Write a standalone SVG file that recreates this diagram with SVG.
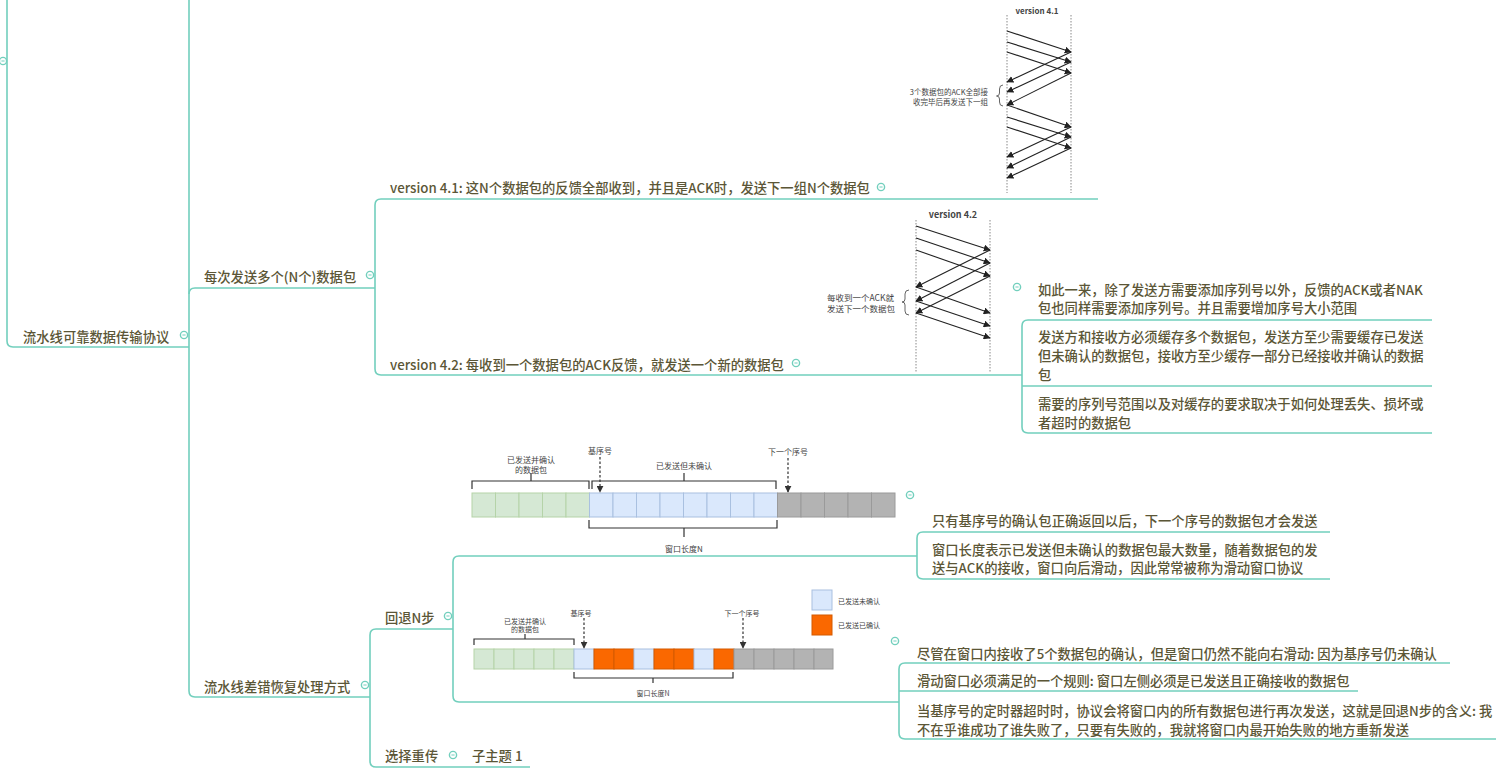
<svg xmlns="http://www.w3.org/2000/svg" width="1496" height="773" viewBox="0 0 1496 773">
<defs>
<style>
.ln{fill:none;stroke:#72cfbd;stroke-width:1.6}
.t{font-family:"Noto Sans CJK SC","Noto Sans",sans-serif;font-size:13.3px;font-weight:500;fill:#5b5636;dominant-baseline:central}
.cc{fill:#fff;stroke:#72cfbd;stroke-width:1.4}
.cm{stroke:#72cfbd;stroke-width:1}
.dot{stroke:#888;stroke-width:1;stroke-dasharray:1.5,1.5}
.ar{stroke:#222;stroke-width:1.1;fill:none}
.s{font-family:"Noto Sans CJK SC","Liberation Sans",sans-serif;fill:#444;dominant-baseline:central}
.br{fill:none;stroke:#333;stroke-width:1.2}
.da{stroke:#333;stroke-width:1.2;stroke-dasharray:2.5,2}
.g{fill:#d5e8d4;stroke:#b5d3a8;stroke-width:1}
.b{fill:#dae8fc;stroke:#a9c0e0;stroke-width:1}
.o{fill:#fa6800;stroke:#d45a00;stroke-width:1}
.k{fill:#b3b3b3;stroke:#9a9a9a;stroke-width:1}
</style>
<marker id="ah" viewBox="0 0 10 10" refX="9" refY="5" markerWidth="7" markerHeight="7" markerUnits="userSpaceOnUse" orient="auto"><path d="M0,0 L10,5 L0,10 Z" fill="#222"/></marker>
<marker id="dh" viewBox="0 0 10 10" refX="9" refY="5" markerWidth="7" markerHeight="7" markerUnits="userSpaceOnUse" orient="auto"><path d="M0,0 L10,5 L0,10 Z" fill="#333"/></marker>
<symbol id="col" viewBox="-5 -5 10 10" overflow="visible"><circle r="3.6" class="cc"/><line x1="-1.6" y1="0" x2="1.6" y2="0" class="cm"/></symbol>
</defs>
<rect width="1496" height="773" fill="#fff"/>

<g id="connectors">
<path class="ln" d="M7,0 V341 Q7,347 13,347 H189"/>
<path class="ln" d="M189,0 V691 Q189,697 195,697 H370"/>
<path class="ln" d="M189,294 Q189,288 195,288 H375"/>
<path class="ln" d="M375,205 Q375,199 381,199 H1098"/>
<path class="ln" d="M375,205 V369 Q375,375 381,375 H1022"/>
<path class="ln" d="M1022,326 Q1022,320 1028,320 H1432"/>
<path class="ln" d="M1022,386 H1432"/>
<path class="ln" d="M1022,326 V427 Q1022,433 1028,433 H1432"/>
<path class="ln" d="M370,635 Q370,629 376,629 H453"/>
<path class="ln" d="M370,635 V761 Q370,767 376,767 H530"/>
<path class="ln" d="M453,562 Q453,556 459,556 H917"/>
<path class="ln" d="M453,562 V696 Q453,702 459,702 H899"/>
<path class="ln" d="M917,538 Q917,532 923,532 H1330"/>
<path class="ln" d="M917,538 V573 Q917,579 923,579 H1330"/>
<path class="ln" d="M899,669 Q899,663 905,663 H1450"/>
<path class="ln" d="M899,691 H1358"/>
<path class="ln" d="M899,669 V733 Q899,739 905,739 H1496"/>
</g>

<g id="n-root-left"><use href="#col" x="-2" y="56" width="10" height="10"/></g>

<g id="n-pipeline">
<text class="t" x="23" y="336">流水线可靠数据传输协议</text>
<use href="#col" x="179" y="330" width="10" height="10"/>
</g>

<g id="n-multi">
<text class="t" x="204" y="276">每次发送多个(N个)数据包</text>
<use href="#col" x="365" y="270" width="10" height="10"/>
</g>

<g id="n-v41">
<text class="t" x="390" y="187">version 4.1: 这N个数据包的反馈全部收到，并且是ACK时，发送下一组N个数据包</text>
<use href="#col" x="876" y="182" width="10" height="10"/>
<text class="s" x="1037" y="10" font-size="8" font-weight="bold" text-anchor="middle" font-family="Liberation Sans,sans-serif">version 4.1</text>
<line class="dot" x1="1007" y1="15" x2="1007" y2="193"/>
<line class="dot" x1="1071" y1="15" x2="1071" y2="193"/>
<g marker-end="url(#ah)">
<line class="ar" x1="1007" y1="31" x2="1071" y2="52"/>
<line class="ar" x1="1007" y1="42" x2="1071" y2="62"/>
<line class="ar" x1="1007" y1="52" x2="1071" y2="73"/>
<line class="ar" x1="1071" y1="52" x2="1007" y2="82"/>
<line class="ar" x1="1071" y1="62" x2="1007" y2="92"/>
<line class="ar" x1="1071" y1="73" x2="1007" y2="105"/>
<line class="ar" x1="1007" y1="105" x2="1071" y2="127"/>
<line class="ar" x1="1007" y1="117" x2="1071" y2="137"/>
<line class="ar" x1="1007" y1="127" x2="1071" y2="148"/>
<line class="ar" x1="1071" y1="127" x2="1007" y2="157"/>
<line class="ar" x1="1071" y1="137" x2="1007" y2="168"/>
<line class="ar" x1="1071" y1="148" x2="1007" y2="178"/>
</g>
<path d="M1003,85 Q999.5,85 999.5,89 V93 Q999.5,96 996.5,96 Q999.5,96 999.5,99 V102 Q999.5,106 1003,106" fill="none" stroke="#555" stroke-width="0.9"/>
<text class="s" x="988" y="91" font-size="7.5" text-anchor="end">3个数据包的ACK全部接</text>
<text class="s" x="988" y="101" font-size="7.5" text-anchor="end">收完毕后再发送下一组</text>
</g>

<g id="n-v42">
<text class="t" x="390" y="364">version 4.2: 每收到一个数据包的ACK反馈，就发送一个新的数据包</text>
<use href="#col" x="791" y="358" width="10" height="10"/>
<text class="s" x="953" y="214" font-size="9" font-weight="bold" text-anchor="middle" font-family="Liberation Sans,sans-serif">version 4.2</text>
<line class="dot" x1="916" y1="220" x2="916" y2="372"/>
<line class="dot" x1="990" y1="220" x2="990" y2="372"/>
<g marker-end="url(#ah)">
<line class="ar" x1="916" y1="226" x2="990" y2="250"/>
<line class="ar" x1="916" y1="238" x2="990" y2="263"/>
<line class="ar" x1="916" y1="250" x2="990" y2="276"/>
<line class="ar" x1="990" y1="250" x2="916" y2="287"/>
<line class="ar" x1="990" y1="263" x2="916" y2="301"/>
<line class="ar" x1="990" y1="276" x2="916" y2="313"/>
<line class="ar" x1="916" y1="287" x2="990" y2="313"/>
<line class="ar" x1="916" y1="301" x2="990" y2="326"/>
<line class="ar" x1="916" y1="313" x2="990" y2="338"/>
</g>
<path d="M909,290 Q905,290 905,294 V299 Q905,302 902,302 Q905,302 905,305 V311 Q905,315 909,315" fill="none" stroke="#555" stroke-width="0.9"/>
<text class="s" x="827" y="297" font-size="8.5">每收到一个ACK就</text>
<text class="s" x="827" y="308" font-size="8.5">发送下一个数据包</text>
<use href="#col" x="1012" y="282" width="10" height="10"/>
</g>

<g id="n-seq">
<text class="t" x="1038" y="289">如此一来，除了发送方需要添加序列号以外，反馈的ACK或者NAK</text>
<text class="t" x="1038" y="307">包也同样需要添加序列号。并且需要增加序号大小范围</text>
</g>
<g id="n-buffer">
<text class="t" x="1038" y="336">发送方和接收方必须缓存多个数据包，发送方至少需要缓存已发送</text>
<text class="t" x="1038" y="355">但未确认的数据包，接收方至少缓存一部分已经接收并确认的数据</text>
<text class="t" x="1038" y="374">包</text>
</g>
<g id="n-range">
<text class="t" x="1038" y="403">需要的序列号范围以及对缓存的要求取决于如何处理丢失、损坏或</text>
<text class="t" x="1038" y="422">者超时的数据包</text>
</g>

<g id="n-error">
<text class="t" x="204" y="686">流水线差错恢复处理方式</text>
<use href="#col" x="360" y="680" width="10" height="10"/>
</g>

<g id="n-gbn">
<text class="t" x="385" y="617">回退N步</text>
<use href="#col" x="443" y="611" width="10" height="10"/>
</g>

<g id="n-sr">
<text class="t" x="385" y="755">选择重传</text>
<use href="#col" x="448" y="750" width="10" height="10"/>
</g>
<g id="n-sub1">
<text class="t" x="472" y="755">子主题 1</text>
</g>

<g id="n-gbn-img1">
<rect class="g" x="472" y="493" width="23.5" height="24"/>
<rect class="g" x="495.5" y="493" width="23.5" height="24"/>
<rect class="g" x="519" y="493" width="23.5" height="24"/>
<rect class="g" x="542.5" y="493" width="23.5" height="24"/>
<rect class="g" x="566" y="493" width="23.5" height="24"/>
<rect class="b" x="589.5" y="493" width="23.5" height="24"/>
<rect class="b" x="613" y="493" width="23.5" height="24"/>
<rect class="b" x="636.5" y="493" width="23.5" height="24"/>
<rect class="b" x="660" y="493" width="23.5" height="24"/>
<rect class="b" x="683.5" y="493" width="23.5" height="24"/>
<rect class="b" x="707" y="493" width="23.5" height="24"/>
<rect class="b" x="730.5" y="493" width="23.5" height="24"/>
<rect class="b" x="754" y="493" width="23.5" height="24"/>
<rect class="k" x="777.5" y="493" width="23.5" height="24"/>
<rect class="k" x="801" y="493" width="23.5" height="24"/>
<rect class="k" x="824.5" y="493" width="23.5" height="24"/>
<rect class="k" x="848" y="493" width="23.5" height="24"/>
<rect class="k" x="871.5" y="493" width="23.5" height="24"/>
<path class="br" d="M472,489 V481 H589 V489 M531,481 V473"/>
<path class="br" d="M592,489 V481 H776 V489 M684,481 V473"/>
<path class="br" d="M589,520 V528 H777 V520 M684,528 V537"/>
<text class="s" x="531" y="459" font-size="8" text-anchor="middle">已发送并确认</text>
<text class="s" x="531" y="469" font-size="8" text-anchor="middle">的数据包</text>
<text class="s" x="684" y="465" font-size="8" text-anchor="middle">已发送但未确认</text>
<text class="s" x="684" y="548" font-size="8" text-anchor="middle">窗口长度N</text>
<text class="s" x="600" y="450" font-size="8" text-anchor="middle">基序号</text>
<text class="s" x="788" y="451" font-size="8" text-anchor="middle">下一个序号</text>
<line class="da" x1="600" y1="457" x2="600" y2="492" marker-end="url(#dh)"/>
<line class="da" x1="788" y1="458" x2="788" y2="492" marker-end="url(#dh)"/>
<use href="#col" x="905" y="490" width="10" height="10"/>
</g>

<g id="n-gbn-t1"><text class="t" x="932" y="520">只有基序号的确认包正确返回以后，下一个序号的数据包才会发送</text></g>
<g id="n-gbn-t2">
<text class="t" x="932" y="549">窗口长度表示已发送但未确认的数据包最大数量，随着数据包的发</text>
<text class="t" x="932" y="567">送与ACK的接收，窗口向后滑动，因此常常被称为滑动窗口协议</text>
</g>

<g id="n-gbn-img2">
<rect class="g" x="474" y="649" width="20" height="20"/>
<rect class="g" x="494" y="649" width="20" height="20"/>
<rect class="g" x="514" y="649" width="20" height="20"/>
<rect class="g" x="534" y="649" width="20" height="20"/>
<rect class="g" x="554" y="649" width="20" height="20"/>
<rect class="b" x="574" y="649" width="20" height="20"/>
<rect class="o" x="594" y="649" width="20" height="20"/>
<rect class="o" x="614" y="649" width="20" height="20"/>
<rect class="b" x="634" y="649" width="20" height="20"/>
<rect class="o" x="654" y="649" width="20" height="20"/>
<rect class="o" x="674" y="649" width="20" height="20"/>
<rect class="b" x="694" y="649" width="20" height="20"/>
<rect class="o" x="714" y="649" width="20" height="20"/>
<rect class="k" x="734" y="649" width="20" height="20"/>
<rect class="k" x="754" y="649" width="20" height="20"/>
<rect class="k" x="774" y="649" width="20" height="20"/>
<rect class="k" x="794" y="649" width="20" height="20"/>
<rect class="k" x="814" y="649" width="19" height="20"/>
<path class="br" d="M474,645 V639 H574 V645 M525,639 V634"/>
<path class="br" d="M574,672 V678 H733 V672 M653,678 V683"/>
<text class="s" x="525" y="621" font-size="7" text-anchor="middle">已发送并确认</text>
<text class="s" x="525" y="629" font-size="7" text-anchor="middle">的数据包</text>
<text class="s" x="653" y="693" font-size="7" text-anchor="middle">窗口长度N</text>
<text class="s" x="581" y="613" font-size="7" text-anchor="middle">基序号</text>
<text class="s" x="742" y="613" font-size="7" text-anchor="middle">下一个序号</text>
<line class="da" x1="584" y1="618" x2="584" y2="648" marker-end="url(#dh)"/>
<line class="da" x1="743" y1="618" x2="743" y2="648" marker-end="url(#dh)"/>
<rect class="b" x="812" y="590" width="20" height="20"/>
<rect class="o" x="812" y="615" width="20" height="20"/>
<text class="s" x="838" y="601" font-size="7">已发送未确认</text>
<text class="s" x="838" y="625" font-size="7">已发送已确认</text>
<use href="#col" x="890" y="636" width="10" height="10"/>
</g>

<g id="n-gbn-t3"><text class="t" x="917" y="653">尽管在窗口内接收了5个数据包的确认，但是窗口仍然不能向右滑动: 因为基序号仍未确认</text></g>
<g id="n-gbn-t4"><text class="t" x="917" y="680">滑动窗口必须满足的一个规则: 窗口左侧必须是已发送且正确接收的数据包</text></g>
<g id="n-gbn-t5">
<text class="t" x="917" y="710">当基序号的定时器超时时，协议会将窗口内的所有数据包进行再次发送，这就是回退N步的含义: 我</text>
<text class="t" x="917" y="729">不在乎谁成功了谁失败了，只要有失败的，我就将窗口内最开始失败的地方重新发送</text>
</g>
</svg>
